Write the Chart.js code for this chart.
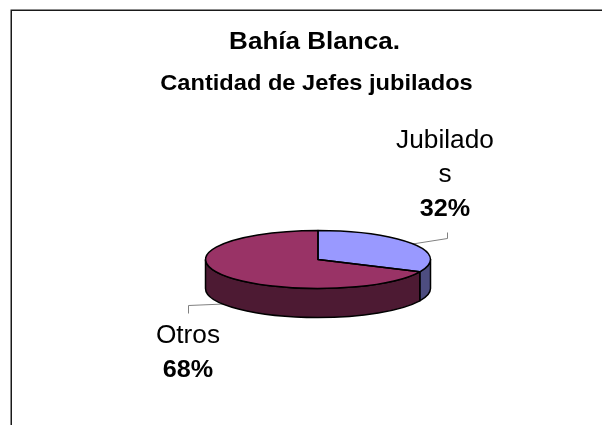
<!DOCTYPE html>
<html>
<head>
<meta charset="utf-8">
<script src="https://cdn.jsdelivr.net/npm/chart.js@4.4.1/dist/chart.umd.min.js"></script>
<style>
  html, body { margin: 0; padding: 0; background: #fff; }
  canvas { display: block; }
</style>
</head>
<body>
<canvas id="pieChart" width="602" height="425"></canvas>
<script>
// ---------------------------------------------------------
// DATA
// ---------------------------------------------------------
const categories = ['Jubilados', 'Otros'];
const shares = [32, 68];
const topColors = ['#9999ff', '#993366'];
const sideColors = ['#4d4d80', '#4d1a33'];
const titleLines = ['Bahía Blanca.', 'Cantidad de Jefes jubilados'];

// ---------------------------------------------------------
// LOOK
// ---------------------------------------------------------
const TILT = 0.258;     // vertical squash of the disc
const DEPTH = 29;       // thickness of the disc (px)
const STRETCH = 1.05;   // text is drawn slightly wide
const FONT = '"Liberation Sans", Arial, sans-serif';
const LINE_H = 34;
const WRAP_W = 104;

// where each label block sits and how its leader bends
const labelSpots = [
    { x: 445, y: 148, elbow: [447, 238], end: [447, 232] },
    { x: 188, y: 343, elbow: [188, 305], end: [188, 313] }
];

const wideText = (ctx, str, x, y, font) => {
    ctx.save();
    ctx.font = font;
    ctx.translate(x, y);
    ctx.scale(STRETCH, 1);
    ctx.textAlign = 'center';
    ctx.textBaseline = 'alphabetic';
    ctx.fillStyle = '#000';
    ctx.fillText(str, 0, 0);
    ctx.restore();
};

// break a name by characters when it gets wider than WRAP_W
const wrapName = (ctx, str, font) => {
    ctx.save();
    ctx.font = font;
    const out = [];
    let cur = '';
    for (const ch of str) {
        if (cur && ctx.measureText(cur + ch).width * STRETCH > WRAP_W) {
            out.push(cur);
            cur = ch;
        } else {
            cur += ch;
        }
    }
    out.push(cur);
    ctx.restore();
    return out;
};

// ---------------------------------------------------------
// 3D PIE PLUGIN
// ---------------------------------------------------------
const pie3d = {
    id: 'pie3d',
    beforeDraw(chart) {
        const ctx = chart.ctx;
        ctx.save();
        ctx.strokeStyle = '#1a1a1a';
        ctx.lineWidth = 1.5;
        ctx.strokeRect(11.25, 10.25, 700, 700);
        ctx.restore();
    },
    beforeDatasetsDraw(chart) {
        const ctx = chart.ctx;
        const arcs = chart.getDatasetMeta(0).data;
        const { x: cx, y: cy, outerRadius: rx } = arcs[0];
        const ry = rx * TILT;

        // leader lines go under the disc
        ctx.save();
        ctx.strokeStyle = '#808080';
        ctx.lineWidth = 1;
        arcs.forEach((arc, i) => {
            const mid = (arc.startAngle + arc.endAngle) / 2;
            const ax = cx + rx * Math.cos(mid);
            const ay = cy + ry * Math.sin(mid) + (Math.sin(mid) > 0 ? DEPTH : 0);
            const spot = labelSpots[i];
            ctx.beginPath();
            ctx.moveTo(ax, ay);
            ctx.lineTo(spot.elbow[0] + 0.5, spot.elbow[1] + 0.5);
            ctx.lineTo(spot.end[0] + 0.5, spot.end[1] + 0.5);
            ctx.stroke();
        });
        ctx.restore();

        // side walls, only the front half (0..PI) shows
        ctx.save();
        ctx.strokeStyle = '#000';
        ctx.lineWidth = 1.5;
        ctx.lineJoin = 'round';
        arcs.forEach((arc, i) => {
            [0, -2 * Math.PI, 2 * Math.PI].forEach(off => {
                const a = Math.max(arc.startAngle + off, 0);
                const b = Math.min(arc.endAngle + off, Math.PI);
                if (a >= b) return;
                ctx.beginPath();
                ctx.ellipse(cx, cy, rx, ry, 0, a, b);
                ctx.ellipse(cx, cy + DEPTH, rx, ry, 0, b, a, true);
                ctx.closePath();
                ctx.fillStyle = sideColors[i];
                ctx.fill();
                ctx.stroke();
            });
        });
        ctx.restore();

        // squash the round pie into the top face
        ctx.save();
        ctx.translate(cx, cy);
        ctx.scale(1, TILT);
        ctx.translate(-cx, -cy);
    },
    afterDatasetsDraw(chart) {
        const ctx = chart.ctx;
        ctx.restore();

        const arcs = chart.getDatasetMeta(0).data;
        const { x: cx, y: cy, outerRadius: rx } = arcs[0];
        const ry = rx * TILT;

        // outline of the top face
        ctx.save();
        ctx.strokeStyle = '#000';
        ctx.lineWidth = 1.5;
        ctx.lineJoin = 'round';
        arcs.forEach(arc => {
            ctx.beginPath();
            ctx.moveTo(cx, cy);
            ctx.ellipse(cx, cy, rx, ry, 0, arc.startAngle, arc.endAngle);
            ctx.closePath();
            ctx.stroke();
        });
        ctx.restore();

        // data labels
        const total = shares.reduce((s, v) => s + v, 0);
        const nameFont = `25px ${FONT}`;
        const pctFont = `bold 24px ${FONT}`;
        categories.forEach((name, i) => {
            const spot = labelSpots[i];
            const lines = wrapName(ctx, name, nameFont);
            lines.forEach((ln, k) => wideText(ctx, ln, spot.x, spot.y + k * LINE_H, nameFont));
            const pct = Math.round(shares[i] / total * 100) + '%';
            wideText(ctx, pct, spot.x, spot.y + lines.length * LINE_H, pctFont);
        });

        // titles
        wideText(ctx, titleLines[0], 314.5, 49, `bold 24.8px ${FONT}`);
        wideText(ctx, titleLines[1], 316.5, 90, `bold 22.5px ${FONT}`);
    }
};

// ---------------------------------------------------------
// CHART
// ---------------------------------------------------------
new Chart(document.getElementById('pieChart'), {
    type: 'pie',
    data: {
        labels: categories,
        datasets: [{
            data: shares,
            backgroundColor: topColors,
            borderWidth: 0,
            hoverBorderWidth: 0,
            hoverOffset: 0
        }]
    },
    options: {
        responsive: false,
        animation: false,
        events: [],
        layout: { padding: { left: 205.5, right: 171.5, top: 147, bottom: 53 } },
        plugins: {
            legend: { display: false },
            tooltip: { enabled: false }
        }
    },
    plugins: [pie3d]
});
</script>
</body>
</html>
